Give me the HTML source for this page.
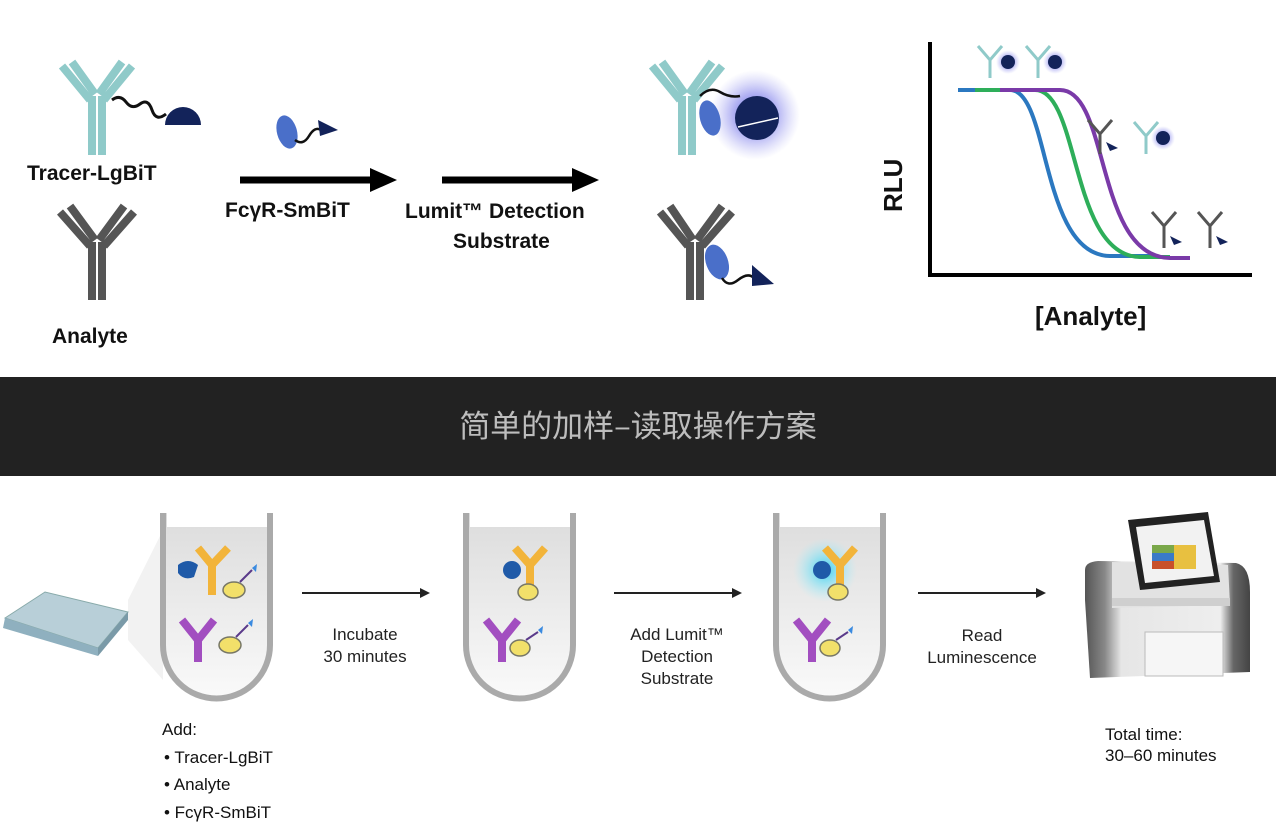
<!DOCTYPE html>
<html><head><meta charset="utf-8"><style>
html,body{margin:0;padding:0;background:#fff;}
body{width:1276px;height:832px;overflow:hidden;position:relative;font-family:"Liberation Sans","Noto Sans CJK SC",sans-serif;}
</style></head><body>
<svg width="1276" height="832" viewBox="0 0 1276 832" xmlns="http://www.w3.org/2000/svg" style="position:absolute;left:0;top:0">
<defs>
<radialGradient id="glow" cx="50%" cy="50%" r="50%">
<stop offset="0" stop-color="#3b3fd8" stop-opacity="0.9"/><stop offset="0.5" stop-color="#6a6ae8" stop-opacity="0.5"/><stop offset="1" stop-color="#9a9af0" stop-opacity="0"/></radialGradient>
<radialGradient id="cglow" cx="50%" cy="50%" r="50%">
<stop offset="0" stop-color="#30d0f0" stop-opacity="0.95"/><stop offset="1" stop-color="#a0f0ff" stop-opacity="0"/></radialGradient>
<linearGradient id="tube" x1="0" y1="0" x2="0" y2="1"><stop offset="0" stop-color="#dcdcdc"/><stop offset="1" stop-color="#fafafa"/></linearGradient>
<linearGradient id="mach" x1="0" y1="0" x2="1" y2="0"><stop offset="0" stop-color="#555"/><stop offset="0.12" stop-color="#888"/><stop offset="0.22" stop-color="#e6e6e6"/><stop offset="0.82" stop-color="#eee"/><stop offset="0.9" stop-color="#666"/><stop offset="1" stop-color="#444"/></linearGradient>
</defs>

<!-- Tracer-LgBiT antibody -->
<g stroke="#8fcac9" stroke-width="8" fill="none">
<path d="M62 66 L90 100 M72 62 L95 94"/><path d="M132 66 L104 100 M122 62 L99 94"/>
<path d="M92 96 L92 155 M102 96 L102 155"/>
</g>
<path d="M112 100 q8 -6 14 2 t14 2 t12 6 t14 4" fill="none" stroke="#111" stroke-width="3"/>
<path d="M165 125 a18 18 0 0 1 36 0 z" fill="#13235a"/>
<text x="27" y="180" font-size="21" font-weight="bold" fill="#111">Tracer-LgBiT</text>
<g stroke="#555" stroke-width="8" fill="none">
<path d="M60 212 L90 246 M70 206 L95 240"/><path d="M134 212 L104 246 M124 206 L99 240"/>
<path d="M92 242 L92 300 M102 242 L102 300"/>
</g>
<text x="52" y="343" font-size="21" font-weight="bold" fill="#111">Analyte</text>

<ellipse cx="287" cy="132" rx="10" ry="17" fill="#4a6fc9" transform="rotate(-15 287 132)"/>
<path d="M295 140 q8 6 14 -4 t12 -6" fill="none" stroke="#111" stroke-width="2.5"/>
<path d="M318 120 L338 130 L320 136 z" fill="#13235a"/>
<path d="M240 180 L372 180" stroke="#000" stroke-width="7"/><path d="M370 168 L397 180 L370 192 z" fill="#000"/>
<text x="225" y="217" font-size="21" font-weight="bold" fill="#111">FcγR-SmBiT</text>
<path d="M442 180 L574 180" stroke="#000" stroke-width="7"/><path d="M572 168 L599 180 L572 192 z" fill="#000"/>
<text x="405" y="218" font-size="21" font-weight="bold" fill="#111">Lumit™ Detection</text>
<text x="453" y="248" font-size="21" font-weight="bold" fill="#111">Substrate</text>

<circle cx="755" cy="115" r="45" fill="url(#glow)"/>
<g stroke="#8fcac9" stroke-width="8" fill="none">
<path d="M652 66 L680 100 M662 62 L685 94"/><path d="M722 66 L694 100 M712 62 L689 94"/>
<path d="M682 96 L682 155 M692 96 L692 155"/>
</g>
<ellipse cx="710" cy="118" rx="10" ry="18" fill="#4a6fc9" transform="rotate(-15 710 118)"/>
<path d="M700 96 q10 -10 20 -4 t20 4" fill="none" stroke="#111" stroke-width="2.5"/>
<circle cx="757" cy="118" r="22" fill="#13235a"/>
<path d="M738 127 L778 118" stroke="#fff" stroke-width="1.5"/>
<g stroke="#555" stroke-width="8" fill="none">
<path d="M660 212 L688 246 M670 206 L693 240"/><path d="M732 212 L702 246 M722 206 L697 240"/>
<path d="M690 242 L690 300 M700 242 L700 300"/>
</g>
<ellipse cx="717" cy="262" rx="11" ry="18" fill="#4a6fc9" transform="rotate(-20 717 262)"/>
<path d="M722 278 q6 10 16 2 t16 -2" fill="none" stroke="#111" stroke-width="2.5"/>
<path d="M752 265 L774 284 L752 286 z" fill="#13235a"/>

<path d="M930 42 L930 275 L1252 275" fill="none" stroke="#000" stroke-width="4"/>
<text x="902" y="212" font-size="26" font-weight="bold" fill="#111" transform="rotate(-90 902 212)">RLU</text>
<text x="1035" y="325" font-size="26" font-weight="bold" fill="#111">[Analyte]</text>
<path d="M958 90 L1010 90 C1050 90,1040 255,1110 256 L1150 256" fill="none" stroke="#2b78c0" stroke-width="4"/>
<path d="M975 90 L1035 90 C1080 90,1070 256,1140 257 L1170 257" fill="none" stroke="#2eae5a" stroke-width="4"/>
<path d="M1000 90 L1060 90 C1110 90,1095 257,1170 258 L1190 258" fill="none" stroke="#7a3aa8" stroke-width="4"/>
<g>
<circle cx="1008" cy="62" r="12" fill="url(#glow)"/><circle cx="1055" cy="62" r="12" fill="url(#glow)"/><circle cx="1163" cy="138" r="12" fill="url(#glow)"/>
<g stroke="#8fcac9" stroke-width="3" fill="none"><path d="M978 46 L990 60 L1002 46 M990 60 L990 78"/><path d="M1026 46 L1038 60 L1050 46 M1038 60 L1038 78"/><path d="M1134 122 L1146 136 L1158 122 M1146 136 L1146 154"/></g>
<circle cx="1008" cy="62" r="7" fill="#13235a"/><circle cx="1055" cy="62" r="7" fill="#13235a"/><circle cx="1163" cy="138" r="7" fill="#13235a"/>
<g stroke="#555" stroke-width="3" fill="none"><path d="M1088 120 L1100 134 L1112 120 M1100 134 L1100 154"/><path d="M1152 212 L1164 226 L1176 212 M1164 226 L1164 248"/><path d="M1198 212 L1210 226 L1222 212 M1210 226 L1210 248"/></g>
<path d="M1106 142 l12 6 l-8 3z M1170 236 l12 6 l-8 3z M1216 236 l12 6 l-8 3z" fill="#13235a"/>
</g>

<rect x="0" y="377" width="1276" height="99" fill="#222"/>
<text x="638" y="437" font-size="31" fill="#bdbdbd" text-anchor="middle" font-family="Noto Sans CJK SC, sans-serif">简单的加样–读取操作方案</text>

<path d="M128 600 L163 530 L163 680 L128 640 z" fill="#f2f2f2"/>
<path d="M5 618 L45 592 L128 612 L98 648 z" fill="#b8cfd8" stroke="#8aa" stroke-width="1"/>
<path d="M5 618 L98 648 L98 656 L3 628 z" fill="#8fb0bf"/>
<path d="M98 648 L128 612 L128 620 L98 656z" fill="#7a9aa8"/>

<g fill="url(#tube)" stroke="#aaa" stroke-width="6">
<path d="M163 513 L163 645 A53 53 0 0 0 270 645 L270 513"/>
<path d="M466 513 L466 645 A53 53 0 0 0 573 645 L573 513"/>
<path d="M776 513 L776 645 A53 53 0 0 0 883 645 L883 513"/>
</g>
<rect x="167" y="513" width="100" height="14" fill="#fff"/><rect x="470" y="513" width="100" height="14" fill="#fff"/><rect x="780" y="513" width="100" height="14" fill="#fff"/>
<circle cx="825" cy="570" r="32" fill="url(#cglow)"/>

<g>
<path d="M198 548 L212 565 L228 548 M212 565 L212 595" fill="none" stroke="#f2b43a" stroke-width="8"/>
<path d="M178 565 q10 -8 20 0 l-4 12 q-10 4 -16 -4z" fill="#1f5aa8"/>
<ellipse cx="234" cy="590" rx="11" ry="8" fill="#f2e06a" stroke="#776" stroke-width="1.5"/>
<path d="M240 582 l12 -12" stroke="#5a3a8a" stroke-width="2"/><path d="M252 568 l5 -4 l-1 8z" fill="#3a8ae0"/>
<path d="M182 620 L198 640 L214 620 M198 640 L198 662" fill="none" stroke="#a24ec0" stroke-width="8"/>
<ellipse cx="230" cy="645" rx="11" ry="8" fill="#f2e06a" stroke="#776" stroke-width="1.5"/>
<path d="M236 637 l12 -12" stroke="#5a3a8a" stroke-width="2"/><path d="M248 623 l5 -4 l-1 8z" fill="#3a8ae0"/>
</g>
<g>
<path d="M515 548 L530 565 L545 548 M530 565 L530 592" fill="none" stroke="#f2b43a" stroke-width="8"/>
<circle cx="512" cy="570" r="9" fill="#1f5aa8"/>
<ellipse cx="528" cy="592" rx="10" ry="8" fill="#f2e06a" stroke="#776" stroke-width="1.5"/>
<path d="M486 620 L502 640 L518 620 M502 640 L502 662" fill="none" stroke="#a24ec0" stroke-width="8"/>
<ellipse cx="520" cy="648" rx="10" ry="8" fill="#f2e06a" stroke="#776" stroke-width="1.5"/>
<path d="M526 640 l12 -8" stroke="#5a3a8a" stroke-width="2"/><path d="M538 630 l5 -4 l-1 8z" fill="#3a8ae0"/>
</g>
<g>
<path d="M825 548 L840 565 L855 548 M840 565 L840 592" fill="none" stroke="#f2b43a" stroke-width="8"/>
<circle cx="822" cy="570" r="9" fill="#1f5aa8"/>
<ellipse cx="838" cy="592" rx="10" ry="8" fill="#f2e06a" stroke="#776" stroke-width="1.5"/>
<path d="M796 620 L812 640 L828 620 M812 640 L812 662" fill="none" stroke="#a24ec0" stroke-width="8"/>
<ellipse cx="830" cy="648" rx="10" ry="8" fill="#f2e06a" stroke="#776" stroke-width="1.5"/>
<path d="M836 640 l12 -8" stroke="#5a3a8a" stroke-width="2"/><path d="M848 630 l5 -4 l-1 8z" fill="#3a8ae0"/>
</g>

<g stroke="#222" stroke-width="2"><path d="M302 593 L422 593"/><path d="M614 593 L734 593"/><path d="M918 593 L1038 593"/></g>
<g fill="#222"><path d="M420 588 L430 593 L420 598z"/><path d="M732 588 L742 593 L732 598z"/><path d="M1036 588 L1046 593 L1036 598z"/></g>
<g font-size="17" fill="#222" text-anchor="middle">
<text x="365" y="640">Incubate</text><text x="365" y="662">30 minutes</text>
<text x="677" y="640">Add Lumit™</text><text x="677" y="662">Detection</text><text x="677" y="684">Substrate</text>
<text x="982" y="641">Read</text><text x="982" y="663">Luminescence</text>
</g>
<g font-size="17" fill="#111">
<text x="162" y="735">Add:</text>
<text x="164" y="763">•  Tracer-LgBiT</text>
<text x="164" y="790">•  Analyte</text>
<text x="164" y="818">•  FcγR-SmBiT</text>
<text x="1105" y="740">Total time:</text>
<text x="1105" y="761">30–60 minutes</text>
</g>

<path d="M1085 570 Q1085 562 1098 561 L1236 563 Q1250 566 1250 592 L1250 672 L1090 678 L1085 600z" fill="url(#mach)"/>
<path d="M1112 562 L1228 565 L1230 605 L1112 608z" fill="#e2e2e2"/>
<rect x="1112" y="598" width="118" height="8" fill="#cfcfcf"/>
<rect x="1145" y="632" width="78" height="44" fill="#f6f6f6" stroke="#bbb"/>
<path d="M1128 520 L1208 512 L1220 582 L1140 590z" fill="#222"/>
<path d="M1136 527 L1204 520 L1214 576 L1145 583z" fill="#f2f2f2"/>
<rect x="1152" y="545" width="22" height="8" fill="#7aa84a"/><rect x="1152" y="553" width="22" height="8" fill="#3a7ac8"/><rect x="1152" y="561" width="22" height="8" fill="#c8502a"/>
<rect x="1174" y="545" width="22" height="24" fill="#e8c040"/>
</svg>
</body></html>
